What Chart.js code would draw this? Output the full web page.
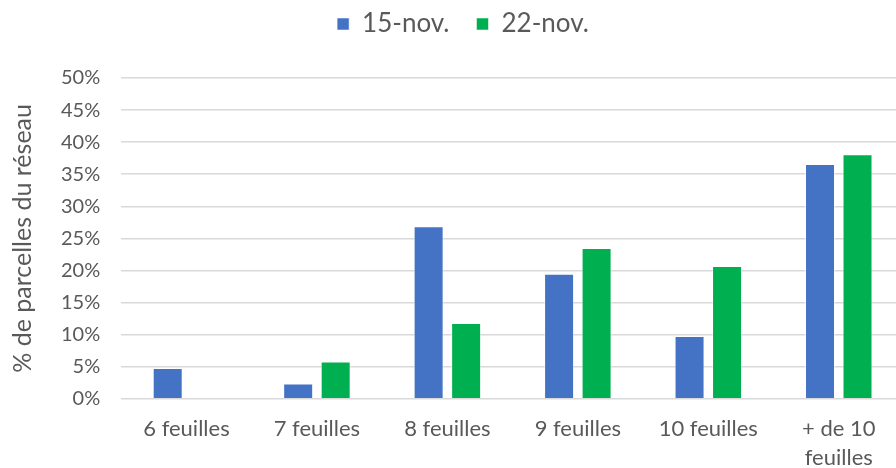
<!DOCTYPE html>
<html>
<head>
<meta charset="utf-8">
<script src="https://cdn.jsdelivr.net/npm/chart.js@4"></script>
<style>
    html, body { margin: 0; padding: 0; background: #fff; }
    #wrap { width: 896px; height: 468px; }
</style>
</head>
<body>
<div id="wrap"><canvas id="leafChart" width="896" height="468"></canvas></div>
<script>
// Stade foliaire — parts de parcelles
const categories = ['6 feuilles', '7 feuilles', '8 feuilles', '9 feuilles', '10 feuilles', ['+ de 10', 'feuilles']];
const nov15 = [4.8, 2.4, 26.9, 19.5, 9.8, 36.6];
const nov22 = [0, 5.8, 11.8, 23.5, 20.7, 38.1];
const seriesLabels = ['15-nov.', '22-nov.'];

const FONT = 'Lato, "Open Sans", sans-serif';
const TEXT = '#595959';

// legend sits a bit higher and right of where Chart.js centres it;
// the category axis runs slightly past the right edge (cropped original)
const layoutNudge = {
    id: 'layoutNudge',
    afterLayout(chart) {
        const l = chart.legend;
        l.left += 13; l.right += 13;
        l.top -= 31; l.bottom -= 31;
        const x = chart.scales.x;
        x.right += 8; x.width += 8;
        x.configure();
    }
};

new Chart(document.getElementById('leafChart'), {
    type: 'bar',
    data: {
        labels: categories,
        datasets: [
            { label: seriesLabels[0], data: nov15, backgroundColor: '#4472C4', borderColor: 'rgba(255,255,255,0.5)', borderWidth: 1 },
            { label: seriesLabels[1], data: nov22, backgroundColor: '#00B050', borderColor: 'rgba(255,255,255,0.5)', borderWidth: 1 }
        ]
    },
    options: {
        responsive: false,
        animation: false,
        layout: { padding: { left: 4, right: 0, top: 15, bottom: -20 } },
        datasets: { bar: { categoryPercentage: 0.575, barPercentage: 0.8 } },
        plugins: {
            legend: {
                position: 'top',
                labels: { color: TEXT, font: { family: FONT, size: 26 }, boxWidth: 12, boxHeight: 12, padding: 27 }
            },
            tooltip: { enabled: false }
        },
        scales: {
            y: {
                min: 0, max: 50,
                ticks: { stepSize: 5, color: TEXT, font: { family: FONT, size: 20 }, padding: 21, callback: v => v + '%' },
                grid: { color: '#d9d9d9', lineWidth: 1.5, drawTicks: false },
                border: { display: false },
                title: { display: true, text: '% de parcelles du réseau', color: TEXT, font: { family: FONT, size: 25 }, padding: { top: 4, bottom: 2 } }
            },
            x: {
                ticks: { color: TEXT, font: { family: FONT, size: 22, lineHeight: 1.3 }, padding: 16, maxRotation: 0 },
                grid: { display: false, drawTicks: false },
                border: { display: false }
            }
        }
    },
    plugins: [layoutNudge]
});
</script>
</body>
</html>
